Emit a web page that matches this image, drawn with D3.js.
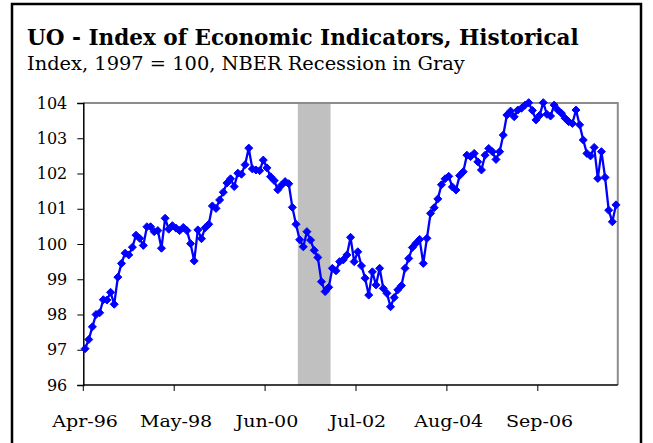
<!DOCTYPE html>
<html><head><meta charset="utf-8">
<script src="https://cdn.jsdelivr.net/npm/d3@7"></script>
<style>html,body{margin:0;padding:0;background:#fff;}svg{display:block;}</style>
</head><body>
<svg id="c" width="653" height="443"></svg>
<script>
// ---- data ----
const startMonth = "1996-04";
const values = [
97.03,97.29,97.65,98.00,98.05,98.42,98.41,98.63,98.29,99.06,
99.45,99.74,99.69,99.91,100.25,100.16,99.96,100.49,100.49,100.35,
100.38,99.88,100.73,100.42,100.52,100.45,100.38,100.47,100.38,100.01,
99.52,100.40,100.15,100.46,100.56,101.08,101.01,101.25,101.47,101.73,
101.85,101.63,102.01,101.98,102.25,102.72,102.13,102.10,102.08,102.38,
102.16,101.91,101.80,101.54,101.67,101.77,101.71,101.04,100.56,100.12,
99.92,100.35,100.11,99.82,99.62,98.93,98.65,98.77,99.31,99.24,
99.50,99.55,99.69,100.19,99.50,99.78,99.38,99.03,98.55,99.21,
98.84,99.31,98.74,98.60,98.22,98.48,98.70,98.82,99.31,99.59,
99.90,100.02,100.13,99.45,100.16,100.87,101.03,101.28,101.68,101.85,
101.92,101.62,101.53,101.94,102.05,102.52,102.48,102.57,102.33,102.10,
102.52,102.71,102.62,102.40,102.62,103.09,103.66,103.77,103.61,103.80,
103.85,103.94,104.01,103.79,103.52,103.65,104.01,103.68,103.63,103.94,
103.80,103.71,103.57,103.47,103.42,103.80,103.38,102.95,102.57,102.50,
102.74,101.86,102.62,101.89,100.96,100.63,101.11
];
const tickLabels = ["Apr-96","May-98","Jun-00","Jul-02","Aug-04","Sep-06"];
const yTicks = [96,97,98,99,100,101,102,103,104];
const recession = ["Mar-01","Nov-01"];
const title = "UO - Index of Economic Indicators, Historical";
const subtitle = "Index, 1997 = 100, NBER Recession in Gray";

// categories (month labels)
const fmt = d3.timeFormat("%b-%y");
const start = d3.timeParse("%Y-%m")(startMonth);
const categories = values.map((v,i)=>fmt(d3.timeMonth.offset(start,i)));

const svg = d3.select("#c");
const FONT = "'DejaVu Serif', 'Liberation Serif', serif";

// frame
svg.append("rect").attr("x",12).attr("y",4).attr("width",629).attr("height",460)
  .attr("fill","none").attr("stroke","#000").attr("stroke-width",2.5);

// title & subtitle: font size for height, squeezed to the measured width
function squeeze(sel, target){
  const w = sel.node().getComputedTextLength();
  if (w > target) sel.attr("textLength", target).attr("lengthAdjust","spacingAndGlyphs");
  else sel.attr("font-size", parseFloat(sel.attr("font-size"))*target/w);
}
const t1 = svg.append("text").attr("x",27).attr("y",45).attr("font-family",FONT)
  .attr("font-weight","bold").attr("font-size",20).attr("fill","#000").text(title);
squeeze(t1, 552);
const t2 = svg.append("text").attr("x",27).attr("y",70).attr("font-family",FONT)
  .attr("font-size",17).attr("fill","#000").text(subtitle);
squeeze(t2, 438);

// scales
const L=83.3, R=617.8, T=103, B=385;
const x = d3.scaleBand().domain(categories).range([L,R]).padding(0);
const bw = x.bandwidth();
const y = d3.scaleLinear().domain([96,104]).range([B,T]);

// recession band
const r0 = x(recession[0]), r1 = x(recession[1]) + bw;
svg.append("rect").attr("x",r0).attr("y",T).attr("width",r1-r0).attr("height",B-T)
  .attr("fill","#C0C0C0");

// plot border (top/right gray)
svg.append("path").attr("d",`M${L},${T}H${R}V${B}`).attr("fill","none")
  .attr("stroke","#8c8c8c").attr("stroke-width",2);

// y axis
const ya = svg.append("g").attr("transform",`translate(${L},0)`)
  .call(d3.axisLeft(y).tickValues(yTicks).tickSize(6).tickPadding(10).tickFormat(d3.format("d")));
ya.select(".domain").attr("stroke","#000").attr("stroke-width",1.5);
ya.selectAll(".tick line").attr("stroke","#000");
ya.selectAll("text").attr("font-family",FONT).attr("font-size",16).attr("fill","#000");

// x axis: labels centered on category, tick marks on category boundaries
const xa = svg.append("g").attr("transform",`translate(0,${B})`)
  .call(d3.axisBottom(x).tickValues(tickLabels).tickSize(0).tickPadding(30));
xa.select(".domain").attr("stroke","#000").attr("stroke-width",1.5).attr("d",`M${L},0H${R}`);
xa.selectAll("text").attr("font-family",FONT).attr("font-size",17).attr("fill","#000")
  .each(function(){
    const w = this.getComputedTextLength();
    d3.select(this).attr("textLength", w*1.12).attr("lengthAdjust","spacingAndGlyphs");
  });
xa.selectAll(".tick").append("line").attr("x1",-bw/2).attr("x2",-bw/2)
  .attr("y1",0).attr("y2",6).attr("stroke","#000");

// line
const px = (d,i)=>x(categories[i])+bw/2;
svg.append("path").datum(values)
  .attr("d", d3.line().x(px).y(d=>y(d)))
  .attr("fill","none").attr("stroke","#0000FF").attr("stroke-width",2.3).attr("stroke-linejoin","round");

// diamond markers
const s = 4;
svg.append("g").selectAll("path").data(values).join("path")
  .attr("transform",(d,i)=>`translate(${px(d,i)},${y(d)})`)
  .attr("d",`M0,${-s}L${s},0L0,${s}L${-s},0Z`)
  .attr("fill","#0000FF").attr("stroke","#0000FF").attr("stroke-width",1);
</script>
</body></html>
